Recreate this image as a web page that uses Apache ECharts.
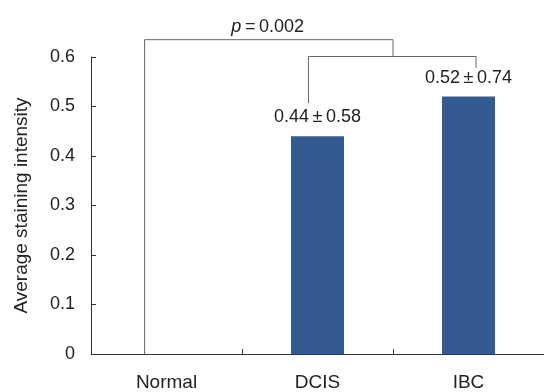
<!DOCTYPE html>
<html>
<head>
<meta charset="utf-8">
<script src="https://cdn.jsdelivr.net/npm/echarts@6/dist/echarts.min.js"></script>
<style>
  html, body { margin: 0; padding: 0; background: #fff; }
  #chart { width: 544px; height: 392px; }
</style>
</head>
<body>
<div id="chart"></div>
<script>
const categories = ['Normal', 'DCIS', 'IBC'];
const means = [0, 0.44, 0.52];
const sds = [null, 0.58, 0.74];
const yTicks = [0, 0.1, 0.2, 0.3, 0.4, 0.5, 0.6];

// bracket paths in data space (x = category index, y = value)
const outerBracket = [[-0.145, 0], [-0.145, 0.635], [1.5, 0.635], [1.5, 0.601]];
const innerBracket = [[0.94, 0.507], [0.94, 0.601], [2.05, 0.601], [2.05, 0.578]];
const pLabel = [[0.67, 0.635]];

const font = 'Liberation Sans, Arial, sans-serif';
const textColor = '#222';
const chart = echarts.init(document.getElementById('chart'));

const bracketLine = (data) => ({
  type: 'line',
  xAxisIndex: 1,
  data: data,
  symbol: 'none',
  clip: false,
  silent: true,
  lineStyle: { color: '#666', width: 1 },
  z: 5,
});

chart.setOption({
  animation: false,
  grid: { left: 91, right: -3, top: 57, bottom: 33, containLabel: false },
  xAxis: [
    {
      type: 'category',
      data: categories,
      axisLine: { lineStyle: { color: '#333', width: 1 } },
      axisTick: { show: true, inside: true, length: 5, interval: 0, lineStyle: { color: '#333' } },
      axisLabel: { color: textColor, fontSize: 19, fontFamily: font, margin: 19 },
    },
    { type: 'value', min: -0.5, max: 2.5, show: false },
  ],
  yAxis: {
    type: 'value',
    min: 0,
    max: yTicks[yTicks.length - 1],
    interval: 0.1,
    name: 'Average staining intensity',
    nameLocation: 'middle',
    nameRotate: 90,
    nameGap: 60,
    nameTextStyle: { color: textColor, fontSize: 19, fontFamily: font },
    axisLine: { show: true, onZero: false, lineStyle: { color: '#333', width: 1 } },
    axisTick: { show: true, inside: true, length: 5, lineStyle: { color: '#333' } },
    splitLine: { show: false },
    axisLabel: {
      color: textColor, fontSize: 18, fontFamily: font, margin: 16,
      formatter: (v) => (v === 0 ? '0' : v.toFixed(1)),
    },
  },
  series: [
    {
      type: 'bar',
      data: means,
      barWidth: 53,
      itemStyle: { color: '#345a92' },
      label: {
        show: true,
        position: 'top',
        distance: 10,
        color: textColor,
        fontSize: 18,
        fontFamily: font,
        formatter: (p) => (sds[p.dataIndex] == null ? '' : `${means[p.dataIndex].toFixed(2)}\u2009±\u2009${sds[p.dataIndex].toFixed(2)}`),
      },
    },
    bracketLine(outerBracket),
    bracketLine(innerBracket),
    {
      type: 'scatter',
      xAxisIndex: 1,
      data: pLabel,
      symbolSize: 0,
      clip: false,
      silent: true,
      itemStyle: { opacity: 1 },
      label: {
        show: true,
        position: 'top',
        distance: 4,
        fontSize: 18,
        fontFamily: font,
        color: textColor,
        opacity: 1,
        formatter: '{i|p}\u2009=\u20090.002',
        rich: { i: { fontStyle: 'italic', fontSize: 18, fontFamily: font, color: textColor } },
      },
    },
  ],
});
</script>
</body>
</html>
